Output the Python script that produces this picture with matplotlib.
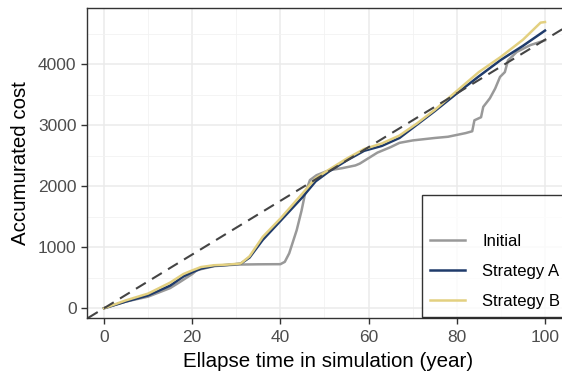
import matplotlib.pyplot as plt
from matplotlib.ticker import MultipleLocator

plt.rcParams["font.family"] = ["Liberation Sans", "DejaVu Sans"]

# 読み取った値
t_initial = [0, 5, 10, 15, 17, 20, 21, 22, 25, 30, 35, 40, 41, 42, 43.7, 44.8, 45.6, 46.7,
             48.2, 51, 54, 57, 58, 60, 62, 65, 67, 70, 75, 78, 80, 82, 83.5, 84, 85.5, 86,
             87.5, 88.7, 89.8, 90.9, 91.6, 93.6, 96.6, 100]
cost_initial = [0, 110, 190, 330, 420, 560, 620, 640, 690, 715, 720, 722, 760, 900, 1280, 1600,
                1880, 2100, 2180, 2260, 2295, 2340, 2370, 2460, 2550, 2640, 2710, 2750, 2790,
                2810, 2840, 2870, 2900, 3080, 3130, 3300, 3440, 3600, 3790, 3870, 4060, 4200,
                4310, 4390]

t_a = [0, 5, 10, 15, 18, 20, 22, 25, 28, 31, 33, 36, 40, 45, 48, 51, 55, 59, 63, 67, 71, 75,
       80, 85, 90, 95, 100]
cost_a = [0, 110, 210, 370, 520, 590, 650, 695, 710, 730, 830, 1120, 1430, 1820, 2080, 2240,
          2420, 2580, 2660, 2790, 3010, 3230, 3520, 3800, 4070, 4300, 4550]

t_b = [0, 5, 10, 15, 18, 20, 22, 25, 28, 31, 33, 36, 40, 45, 48, 51, 55, 59, 63, 67, 71, 75,
       80, 85, 90, 95, 99, 100]
cost_b = [0, 130, 240, 420, 560, 620, 675, 705, 715, 733, 850, 1170, 1470, 1880, 2130, 2270,
          2450, 2610, 2700, 2830, 3030, 3250, 3560, 3870, 4120, 4400, 4680, 4690]

ref_slope = 44  # 破線の傾き

fig = plt.figure(figsize=[5.62, 3.74], dpi=100)
# 右端は図の外まで伸ばす (元図では切れている)
ax = fig.add_axes([87 / 562, 56 / 374, 483 / 562, 310 / 374])

ax.plot(t_initial, cost_initial, color="#999999", lw=1.8, label="Initial")
ax.plot(t_a, cost_a, color="#1F3B6B", lw=1.8, label="Strategy A")
ax.plot(t_b, cost_b, color="#E3D080", lw=1.8, label="Strategy B")
ax.axline((0, 0), slope=ref_slope, color="#444444", lw=1.5, ls=(0, (5.5, 3.5)))

ax.set_xlim(-3.85, 105.67)
ax.set_ylim(-160, 4920)
ax.xaxis.set_major_locator(MultipleLocator(20))
ax.xaxis.set_minor_locator(MultipleLocator(10))
ax.yaxis.set_major_locator(MultipleLocator(1000))
ax.yaxis.set_minor_locator(MultipleLocator(500))

# グリッド (theme_bw 風)
ax.grid(which="major", color="#EBEBEB", lw=1.1)
ax.grid(which="minor", color="#F2F2F2", lw=0.6)
ax.set_axisbelow(True)
for s in ax.spines.values():
    s.set_color("#333333")
    s.set_linewidth(1.0)
ax.tick_params(which="major", length=4, width=1, color="#333333",
               labelsize=12.5, labelcolor="#4D4D4D")
ax.tick_params(axis="x", pad=5)
ax.tick_params(which="minor", length=0)

ax.set_xlabel("Ellapse time in simulation (year)", fontsize=14.8, labelpad=5)
ax.set_ylabel("Accumurated cost", fontsize=14.8, labelpad=6)

# 凡例
leg = fig.legend(loc="lower left", bbox_to_anchor=(422 / 562, 57 / 374), title=" ",
                 fontsize=12, title_fontsize=12, frameon=True, fancybox=False,
                 borderaxespad=0, handlelength=2.1, handletextpad=1.0, borderpad=0.5,
                 labelspacing=0.9)
leg.get_frame().set_edgecolor("black")
leg.get_frame().set_linewidth(1.0)

plt.savefig("out.png", dpi=100)
